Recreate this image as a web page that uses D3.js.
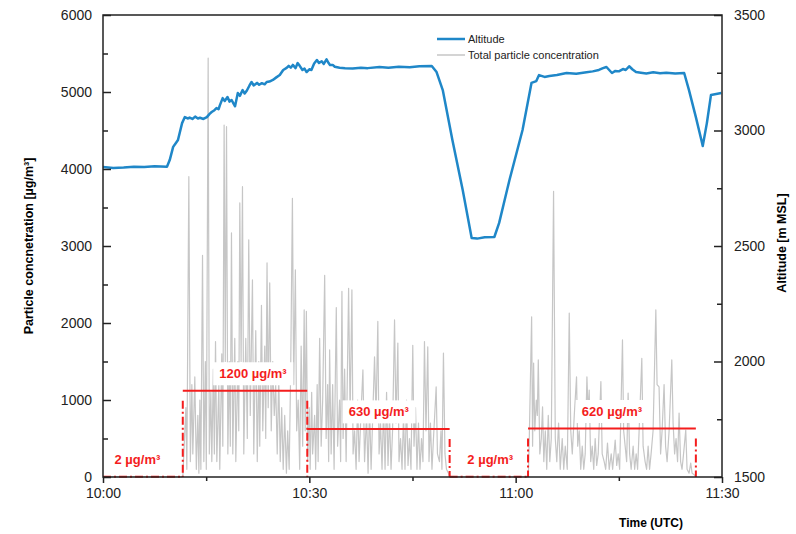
<!DOCTYPE html>
<html>
<head>
<meta charset="utf-8">
<script src="https://cdn.jsdelivr.net/npm/d3@7"></script>
<style>
body { margin: 0; background: #fff; }
svg { display: block; font-family: Arial, "Liberation Sans", sans-serif; }
</style>
</head>
<body>
<div id="chart"></div>
<script>
// constants
const margin = {top: 15, right: 74, bottom: 57, left: 103}
const width = 796 - margin.left - margin.right
const height = 534 - margin.top - margin.bottom

const color_altitude = '#1f87c8'
const color_particles = '#c6c6c6'
const color_mean = '#f41d1d'
const color_axis = '#222'

// time axis, minutes after 10:00 UTC
const time_domain = [0, 90]
const time_ticks = [0, 30, 60, 90]
const time_tick_labels = ['10:00', '10:30', '11:00', '11:30']
const time_minor_ticks = [15, 45, 75]

const conc_domain = [0, 6000]
const conc_ticks = [0, 1000, 2000, 3000, 4000, 5000, 6000]
const conc_minor_ticks = [500, 1500, 2500, 3500, 4500, 5500]

const alt_domain = [1500, 3500]
const alt_ticks = [1500, 2000, 2500, 3000, 3500]
const alt_minor_ticks = [1750, 2250, 2750, 3250]

// mean concentration per flight leg
const leg_bounds = [0, 11.6, 29.7, 50.4, 61.8, 86.2]
const leg_levels = [2, 1120, 625, 2, 630]
const leg_labels = ['2 µg/m³', '1200 µg/m³', '630 µg/m³', '2 µg/m³', '620 µg/m³']
const leg_label_times = [5.0, 21.8, 40.1, 56.3, 74.0]

const legend_labels = ['Altitude', 'Total particle concentration']

// [minutes after 10:00, m MSL]
const altitude = [
    [0, 2842], [1.5, 2838], [3.0, 2840], [4.5, 2843], [6.0, 2842], [7.5, 2845], [9.3, 2843],
    [9.7, 2872], [10.2, 2929], [10.6, 2946], [10.9, 2959], [11.5, 3032], [11.9, 3058], [12.3, 3052],
    [12.6, 3056], [13.0, 3050], [13.4, 3060], [13.8, 3052], [14.1, 3055], [14.6, 3050], [15.1, 3058],
    [15.5, 3072], [15.8, 3080], [16.2, 3088], [16.5, 3097], [16.8, 3092], [17.0, 3110], [17.4, 3140],
    [17.7, 3128], [18.1, 3145], [18.4, 3125], [18.7, 3132], [19.0, 3115], [19.2, 3105], [19.6, 3162],
    [19.9, 3150], [20.3, 3175], [20.6, 3160], [20.9, 3172], [21.3, 3195], [21.6, 3210], [21.9, 3195],
    [22.4, 3206], [22.7, 3198], [23.1, 3205], [23.5, 3200], [23.8, 3210], [24.2, 3212], [24.7, 3219],
    [25.2, 3230], [25.7, 3240], [26.2, 3262], [26.7, 3271], [27.0, 3280], [27.3, 3272], [27.6, 3284],
    [28.0, 3270], [28.3, 3292], [28.6, 3280], [29.0, 3262], [29.3, 3268], [29.6, 3253], [30.0, 3265],
    [30.3, 3262], [30.7, 3290], [31.1, 3305], [31.4, 3292], [31.8, 3300], [32.1, 3288], [32.5, 3308],
    [32.8, 3292], [33.0, 3284], [33.4, 3284], [33.7, 3276], [34.4, 3272], [35.2, 3270], [36.3, 3268],
    [37.5, 3272], [38.5, 3270], [40.2, 3275], [41.5, 3272], [43.0, 3276], [44.6, 3274], [46.0, 3278],
    [47.8, 3279], [48.5, 3253], [49.4, 3175], [50.8, 2959], [52.3, 2742], [53.6, 2535], [54.4, 2532],
    [55.5, 2538], [56.9, 2539], [57.6, 2600], [59.1, 2786], [61.0, 3002], [62.3, 3206], [63.0, 3214],
    [63.4, 3240], [64.2, 3232], [64.9, 3236], [66.0, 3240], [67.4, 3249], [68.8, 3246], [70.3, 3252],
    [71.2, 3256], [72.1, 3262], [72.7, 3270], [73.2, 3275], [73.6, 3262], [74.0, 3249], [74.5, 3258],
    [75.0, 3256], [75.6, 3266], [76.0, 3262], [76.5, 3278], [77.0, 3264], [77.5, 3253], [78.2, 3250],
    [79.0, 3247], [80.0, 3252], [81.0, 3248], [81.9, 3250], [83.2, 3247], [84.5, 3249], [85.2, 3175],
    [86.2, 3058], [87.0, 2959], [87.2, 2933], [87.8, 3032], [88.4, 3154], [89.9, 3162]
]

// [minutes after 10:00, µg/m³]
const concentration = [
    [0, 2], [11.5, 2], [11.61, 10], [12.05, 900], [12.19, 100], [12.48, 3900], [12.70, 200],
    [12.92, 1200], [13.06, 300], [13.35, 1300], [13.57, 100], [13.79, 800], [13.94, 50], [14.08, 1000],
    [14.23, 100], [14.47, 2880], [14.66, 200], [14.88, 1500], [15.02, 100], [15.29, 5440], [15.46, 300],
    [15.68, 1100], [15.82, 200], [16.04, 1400], [16.19, 300], [16.36, 1760], [16.55, 200], [16.84, 1200],
    [16.98, 100], [17.27, 1600], [17.42, 400], [17.61, 4570], [17.78, 1500], [17.96, 4550], [18.15, 300],
    [18.36, 1500], [18.51, 400], [18.68, 3170], [18.87, 300], [19.16, 1800], [19.31, 200], [19.60, 1500],
    [19.74, 600], [19.89, 3560], [20.08, 1500], [20.28, 3770], [20.47, 300], [20.76, 1800], [20.98, 500],
    [21.19, 3080], [21.41, 800], [21.73, 2560], [21.92, 300], [22.21, 1900], [22.43, 200], [22.65, 1500],
    [22.79, 400], [23.04, 2230], [23.23, 600], [23.52, 1700], [23.66, 500], [23.85, 2780], [24.02, 900],
    [24.24, 2520], [24.46, 600], [24.68, 1500], [24.90, 800], [25.11, 1200], [25.33, 300], [25.55, 1300],
    [25.77, 200], [25.98, 900], [26.20, 100], [26.42, 800], [26.67, 50], [26.85, 600], [27.07, 100],
    [27.29, 1400], [27.54, 3620], [27.73, 1200], [27.97, 2690], [28.16, 600], [28.38, 1000], [28.60, 100],
    [28.81, 1700], [29.03, 400], [29.25, 2170], [29.40, 600], [29.57, 2150], [29.76, 200], [29.98, 900],
    [30.12, 100], [30.34, 1100], [30.48, 300], [30.77, 800], [30.92, 100], [31.14, 1200], [31.28, 200],
    [31.50, 1800], [31.72, 400], [31.94, 1000], [32.23, 2620], [32.44, 500], [32.66, 1200], [32.81, 200],
    [32.95, 1650], [33.17, 300], [33.39, 1200], [33.60, 100], [33.92, 2200], [34.11, 400], [34.40, 1000],
    [34.55, 200], [34.74, 2410], [34.91, 500], [35.13, 1400], [35.35, 200], [35.71, 2450], [35.93, 800],
    [36.19, 2430], [36.36, 300], [36.58, 600], [36.80, 100], [37.02, 1000], [37.23, 200], [37.45, 700],
    [37.79, 1390], [38.03, 200], [38.32, 800], [38.54, 50], [38.76, 900], [38.98, 100], [39.19, 700],
    [39.48, 1560], [39.70, 800], [39.96, 2020], [40.14, 300], [40.35, 700], [40.57, 100], [40.79, 900],
    [41.01, 100], [41.23, 1100], [41.44, 150], [41.66, 800], [41.88, 100], [42.10, 600], [42.39, 2040],
    [42.60, 700], [42.87, 1740], [43.04, 200], [43.26, 500], [43.48, 100], [43.69, 800], [43.91, 100],
    [44.13, 1000], [44.35, 150], [44.56, 500], [44.78, 100], [45.04, 1710], [45.22, 400], [45.44, 900],
    [45.65, 100], [45.87, 700], [46.09, 100], [46.31, 500], [46.52, 200], [46.74, 1760], [46.96, 600],
    [47.22, 1690], [47.40, 200], [47.61, 700], [47.83, 100], [48.05, 500], [48.44, 1170], [48.63, 300],
    [48.92, 200], [49.14, 600], [49.28, 100], [49.50, 1610], [49.72, 300], [49.94, 100], [50.23, 50],
    [50.37, 2], [61.84, 2], [61.98, 500], [62.32, 2080], [62.46, 400], [62.61, 1480], [62.78, 600],
    [63.00, 1000], [63.15, 800], [63.29, 1520], [63.51, 300], [63.73, 500], [63.91, 910], [64.09, 200],
    [64.31, 600], [64.52, 100], [64.74, 800], [64.96, 200], [65.18, 500], [65.51, 3710], [65.76, 500],
    [65.98, 200], [66.24, 700], [66.48, 100], [66.77, 500], [66.99, 100], [67.21, 400], [67.50, 100],
    [67.79, 2130], [68.01, 600], [68.23, 300], [68.52, 800], [68.85, 1300], [69.02, 400], [69.24, 600],
    [69.46, 100], [69.68, 400], [69.90, 100], [70.11, 300], [70.36, 1300], [70.55, 800], [70.69, 1130],
    [70.91, 200], [71.13, 400], [71.35, 100], [71.56, 500], [71.78, 150], [72.00, 300], [72.39, 1240],
    [72.58, 300], [72.87, 200], [73.09, 100], [73.35, 440], [73.60, 100], [73.89, 300], [74.10, 100],
    [74.47, 480], [74.69, 150], [74.90, 300], [75.12, 100], [75.53, 1780], [75.70, 600], [75.92, 400],
    [76.14, 200], [76.35, 1090], [76.57, 300], [76.79, 100], [77.08, 400], [77.30, 100], [77.52, 300],
    [77.73, 100], [77.95, 600], [78.34, 1540], [78.53, 400], [78.82, 200], [79.04, 100], [79.26, 400],
    [79.47, 100], [79.69, 300], [79.98, 600], [80.38, 2170], [80.56, 1200], [80.85, 1170], [81.07, 300],
    [81.29, 600], [81.58, 1200], [81.80, 400], [82.02, 200], [82.31, 600], [82.70, 1520], [82.89, 700],
    [83.11, 300], [83.32, 500], [83.54, 200], [83.76, 830], [83.98, 200], [84.19, 100], [84.41, 300],
    [84.73, 610], [84.92, 100], [85.21, 50], [85.45, 180], [85.65, 50], [85.94, 30], [86.23, 2]
]

// svg
var svg = d3.select('#chart')
            .append('svg')
                .attr('width', width + margin.left + margin.right)
                .attr('height', height + margin.top + margin.bottom)
            .append('g')
                .attr('transform', `translate(${margin.left}, ${margin.top})`)

const x = d3.scaleLinear().domain(time_domain).range([0, width])
const y = d3.scaleLinear().domain(conc_domain).range([height, 0])
const y_alt = d3.scaleLinear().domain(alt_domain).range([height, 0])

// particle concentration
svg.append('path')
    .datum(concentration)
    .attr('d', d3.line().x(d => x(d[0])).y(d => y(d[1])))
    .attr('fill', 'none')
    .attr('stroke', color_particles)
    .attr('stroke-width', 1.2)
    .attr('stroke-linejoin', 'round')

// mean per leg
const legs = leg_levels.map((v, i) => ({
    start: leg_bounds[i], end: leg_bounds[i + 1], level: v,
    label: leg_labels[i], label_time: leg_label_times[i]
}))
const dash = '8,3,2,3'

svg.selectAll('line.leg')
    .data(legs)
    .join('line')
        .attr('class', 'leg')
        .attr('x1', d => x(d.start))
        .attr('x2', d => x(d.end))
        .attr('y1', d => y(d.level))
        .attr('y2', d => y(d.level))
        .attr('stroke', color_mean)
        .attr('stroke-width', 2)
        .attr('stroke-dasharray', d => d.level < 10 ? dash : null)

// dash-dot separators between legs
const separators = leg_bounds.slice(1).map((t, i) => ({
    time: t,
    top: Math.max(leg_levels[i], leg_levels[i + 1] || 0)
}))
svg.selectAll('line.sep')
    .data(separators)
    .join('line')
        .attr('class', 'sep')
        .attr('x1', d => x(d.time))
        .attr('x2', d => x(d.time))
        .attr('y1', d => y(d.top) + 10)
        .attr('y2', y(0))
        .attr('stroke', color_mean)
        .attr('stroke-width', 2)
        .attr('stroke-dasharray', dash)

// leg labels on white boxes
const label_g = svg.selectAll('g.leg-label')
    .data(legs)
    .join('g')
        .attr('class', 'leg-label')
        .attr('transform', d => `translate(${x(d.label_time)}, ${y(d.level) - 17})`)
const label_rect = label_g.append('rect').attr('fill', 'white')
const label_text = label_g.append('text')
    .attr('text-anchor', 'middle')
    .attr('dominant-baseline', 'central')
    .attr('fill', color_mean)
    .style('font-size', '13px')
    .style('font-weight', 'bold')
    .text(d => d.label)
label_text.each(function(d, i) {
    const b = this.getBBox()
    d3.select(label_rect.nodes()[i])
        .attr('x', b.x - 6).attr('y', b.y - 4)
        .attr('width', b.width + 12).attr('height', b.height + 8)
})

// altitude
svg.append('path')
    .datum(altitude)
    .attr('d', d3.line().x(d => x(d[0])).y(d => y_alt(d[1])))
    .attr('fill', 'none')
    .attr('stroke', color_altitude)
    .attr('stroke-width', 2.5)
    .attr('stroke-linejoin', 'round')

// axes
function styleAxis(g) {
    g.select('.domain').remove()
    g.selectAll('line').attr('stroke', color_axis).attr('stroke-width', 1.5)
    g.selectAll('text').attr('fill', '#222').style('font-size', '14px')
}

svg.append('g')
    .attr('transform', `translate(0, ${height})`)
    .call(d3.axisBottom(x).tickValues(time_ticks).tickSize(6).tickPadding(5)
            .tickFormat((d, i) => time_tick_labels[i]))
    .call(styleAxis)
svg.append('g')
    .attr('transform', `translate(0, ${height})`)
    .call(d3.axisBottom(x).tickValues(time_minor_ticks).tickSize(4).tickFormat(''))
    .call(styleAxis)

svg.append('g')
    .call(d3.axisLeft(y).tickValues(conc_ticks).tickSize(-8).tickPadding(11)
            .tickFormat(d3.format('d')))
    .call(styleAxis)
svg.append('g')
    .call(d3.axisLeft(y).tickValues(conc_minor_ticks).tickSize(-5).tickFormat(''))
    .call(styleAxis)

svg.append('g')
    .attr('transform', `translate(${width}, 0)`)
    .call(d3.axisRight(y_alt).tickValues(alt_ticks).tickSize(-8).tickPadding(12)
            .tickFormat(d3.format('d')))
    .call(styleAxis)
svg.append('g')
    .attr('transform', `translate(${width}, 0)`)
    .call(d3.axisRight(y_alt).tickValues(alt_minor_ticks).tickSize(-5).tickFormat(''))
    .call(styleAxis)

// frame
svg.append('rect')
    .attr('width', width)
    .attr('height', height)
    .attr('fill', 'none')
    .attr('stroke', color_axis)
    .attr('stroke-width', 1.5)

// axis titles
svg.append('text')
    .attr('transform', `translate(${29 - margin.left}, ${height / 2}) rotate(-90)`)
    .attr('text-anchor', 'middle')
    .attr('dominant-baseline', 'central')
    .style('font-size', '12.5px')
    .style('font-weight', 'bold')
    .text('Particle concnetration [µg/m³]')

svg.append('text')
    .attr('transform', `translate(${width + 60}, ${height / 2 - 3}) rotate(-90)`)
    .attr('text-anchor', 'middle')
    .attr('dominant-baseline', 'central')
    .style('font-size', '12.5px')
    .style('font-weight', 'bold')
    .text('Altitude [m MSL]')

svg.append('text')
    .attr('x', 548)
    .attr('y', height + 46)
    .attr('text-anchor', 'middle')
    .attr('dominant-baseline', 'central')
    .style('font-size', '12px')
    .style('font-weight', 'bold')
    .text('Time (UTC)')

// legend
const legend = svg.append('g')
    .attr('transform', `translate(334, 24)`)
legend.selectAll('line')
    .data(legend_labels)
    .join('line')
        .attr('x1', 0).attr('x2', 28)
        .attr('y1', (d, i) => i * 16).attr('y2', (d, i) => i * 16)
        .attr('stroke', (d, i) => i == 0 ? color_altitude : color_particles)
        .attr('stroke-width', (d, i) => i == 0 ? 2.5 : 1.5)
legend.selectAll('text')
    .data(legend_labels)
    .join('text')
        .attr('x', 31)
        .attr('y', (d, i) => i * 16)
        .attr('dominant-baseline', 'central')
        .attr('fill', '#222')
        .style('font-size', '11px')
        .text(d => d)
</script>
</body>
</html>
